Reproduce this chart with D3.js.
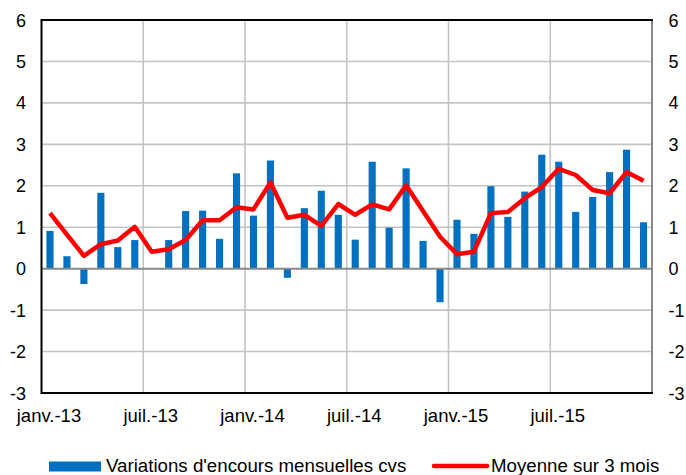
<!DOCTYPE html>
<html>
	<head>
		<meta charset="utf-8">
		<style>
			body { margin: 0; background: #fff; }
			text { font-family: "Liberation Sans", Arial, sans-serif; fill: #000; }
		</style>
	</head>
	<body>
		<div id="viz"></div>

		<script src="https://d3js.org/d3.v7.min.js"></script>
		<script>

		  // months from janv.-13 to déc.-15
		  const months = ["2013-01","2013-02","2013-03","2013-04","2013-05","2013-06","2013-07","2013-08","2013-09","2013-10","2013-11","2013-12",
		                  "2014-01","2014-02","2014-03","2014-04","2014-05","2014-06","2014-07","2014-08","2014-09","2014-10","2014-11","2014-12",
		                  "2015-01","2015-02","2015-03","2015-04","2015-05","2015-06","2015-07","2015-08","2015-09","2015-10","2015-11","2015-12"];

		  // monthly changes (bars)
		  const variations = [0.91, 0.30, -0.37, 1.83, 0.52, 0.69, 0.00, 0.69, 1.39, 1.40, 0.72, 2.30,
		                      1.28, 2.61, -0.22, 1.46, 1.88, 1.30, 0.70, 2.58, 0.99, 2.42, 0.67, -0.81,
		                      1.18, 0.84, 1.99, 1.25, 1.86, 2.75, 2.58, 1.37, 1.73, 2.33, 2.87, 1.12];

		  // 3 month average (line)
		  const moyenne = [1.34, 0.82, 0.31, 0.59, 0.68, 1.01, 0.41, 0.47, 0.69, 1.17, 1.17, 1.48,
		                   1.43, 2.08, 1.23, 1.30, 1.03, 1.56, 1.30, 1.55, 1.43, 2.01, 1.39, 0.77,
		                   0.35, 0.41, 1.34, 1.37, 1.70, 1.97, 2.41, 2.26, 1.90, 1.82, 2.33, 2.12];

		  const xTickLabels = {"2013-01": "janv.-13", "2013-07": "juil.-13", "2014-01": "janv.-14",
		                       "2014-07": "juil.-14", "2015-01": "janv.-15", "2015-07": "juil.-15"};

		  const yTicks = [-3, -2, -1, 0, 1, 2, 3, 4, 5, 6];

		  const seriesNames = ["Variations d'encours mensuelles cvs", "Moyenne sur 3 mois"];

		  const width = 686,
		        height = 475,
		        plotLeft = 41.5,
		        plotRight = 652,
		        plotTop = 20,
		        plotBottom = 393;

		  const svg = d3.select("#viz").append("svg")
		        .attr("width", width)
		        .attr("height", height);

		  const xScale = d3.scaleBand()
		      .domain(months)
		      .range([plotLeft, plotRight])
		      .paddingInner(0.58)
		      .paddingOuter(0.29);

		  const yScale = d3.scaleLinear()
		      .domain([-3, 6])
		      .range([plotBottom, plotTop]);

		  const data = months.map((m, i) => ({month: m, v: variations[i], avg: moyenne[i]}));

		  // boundary of a month band (left edge)
		  const bandEdge = m => xScale(m) - xScale.step() * xScale.paddingInner() / 2;

		  // horizontal gridlines
		  svg.append("g").selectAll("line")
		      .data(yTicks.filter(d => d !== 0 && d !== -3 && d !== 6))
		    .enter().append("line")
		      .attr("x1", plotLeft)
		      .attr("x2", plotRight)
		      .attr("y1", d => yScale(d))
		      .attr("y2", d => yScale(d))
		      .attr("stroke", "#c4c4c4")
		      .attr("stroke-width", 1.6);

		  // vertical gridlines every six months
		  svg.append("g").selectAll("line")
		      .data(Object.keys(xTickLabels).filter(m => m !== months[0]))
		    .enter().append("line")
		      .attr("x1", d => bandEdge(d))
		      .attr("x2", d => bandEdge(d))
		      .attr("y1", plotTop)
		      .attr("y2", plotBottom)
		      .attr("stroke", "#c4c4c4")
		      .attr("stroke-width", 1.6);

		  // bars
		  svg.append("g").selectAll("rect")
		      .data(data)
		    .enter().append("rect")
		      .attr("x", d => xScale(d.month))
		      .attr("y", d => yScale(Math.max(0, d.v)))
		      .attr("width", xScale.bandwidth())
		      .attr("height", d => Math.abs(yScale(d.v) - yScale(0)))
		      .attr("fill", "#0070C0");

		  // zero line
		  svg.append("line")
		      .attr("x1", plotLeft)
		      .attr("x2", plotRight)
		      .attr("y1", yScale(0))
		      .attr("y2", yScale(0))
		      .attr("stroke", "#888")
		      .attr("stroke-width", 2);

		  // frame
		  svg.append("line")
		      .attr("x1", plotRight).attr("x2", plotRight)
		      .attr("y1", plotTop).attr("y2", plotBottom)
		      .attr("stroke", "#888")
		      .attr("stroke-width", 2);

		  svg.append("path")
		      .attr("d", `M${plotRight + 1},${plotTop} H${plotLeft} V${plotBottom} H${plotRight + 1}`)
		      .attr("fill", "none")
		      .attr("stroke", "#000")
		      .attr("stroke-width", 2);

		  // 3 month average line
		  const line = d3.line()
		      .x(d => xScale(d.month) + xScale.bandwidth() / 2)
		      .y(d => yScale(d.avg));

		  svg.append("path")
		      .datum(data)
		      .attr("d", line)
		      .attr("fill", "none")
		      .attr("stroke", "#FF0000")
		      .attr("stroke-width", 4.5)
		      .attr("stroke-linejoin", "round");

		  // y axis labels, left and right
		  svg.append("g").selectAll("text")
		      .data(yTicks)
		    .enter().append("text")
		      .attr("x", 26)
		      .attr("y", d => yScale(d) + 6.5)
		      .attr("text-anchor", "end")
		      .attr("font-size", 18)
		      .text(d => d);

		  svg.append("g").selectAll("text")
		      .data(yTicks)
		    .enter().append("text")
		      .attr("x", 668.5)
		      .attr("y", d => yScale(d) + 6.5)
		      .attr("text-anchor", "start")
		      .attr("font-size", 18)
		      .text(d => d);

		  // x axis labels
		  svg.append("g").selectAll("text")
		      .data(Object.keys(xTickLabels))
		    .enter().append("text")
		      .attr("x", d => xScale(d) + xScale.bandwidth() / 2 - 1)
		      .attr("y", 422)
		      .attr("text-anchor", "middle")
		      .attr("font-size", 18.5)
		      .text(d => xTickLabels[d]);

		  // legend
		  const legend = svg.append("g");

		  legend.append("rect")
		      .attr("x", 49)
		      .attr("y", 461.5)
		      .attr("width", 52)
		      .attr("height", 10)
		      .attr("fill", "#0070C0");

		  legend.append("text")
		      .attr("x", 106)
		      .attr("y", 472)
		      .attr("font-size", 18.7)
		      .text(seriesNames[0]);

		  legend.append("line")
		      .attr("x1", 434)
		      .attr("x2", 487)
		      .attr("y1", 466)
		      .attr("y2", 466)
		      .attr("stroke", "#FF0000")
		      .attr("stroke-width", 4.5)
		      .attr("stroke-linecap", "round");

		  legend.append("text")
		      .attr("x", 491)
		      .attr("y", 472)
		      .attr("font-size", 18.7)
		      .text(seriesNames[1]);

		</script>
	</body>
</html>
